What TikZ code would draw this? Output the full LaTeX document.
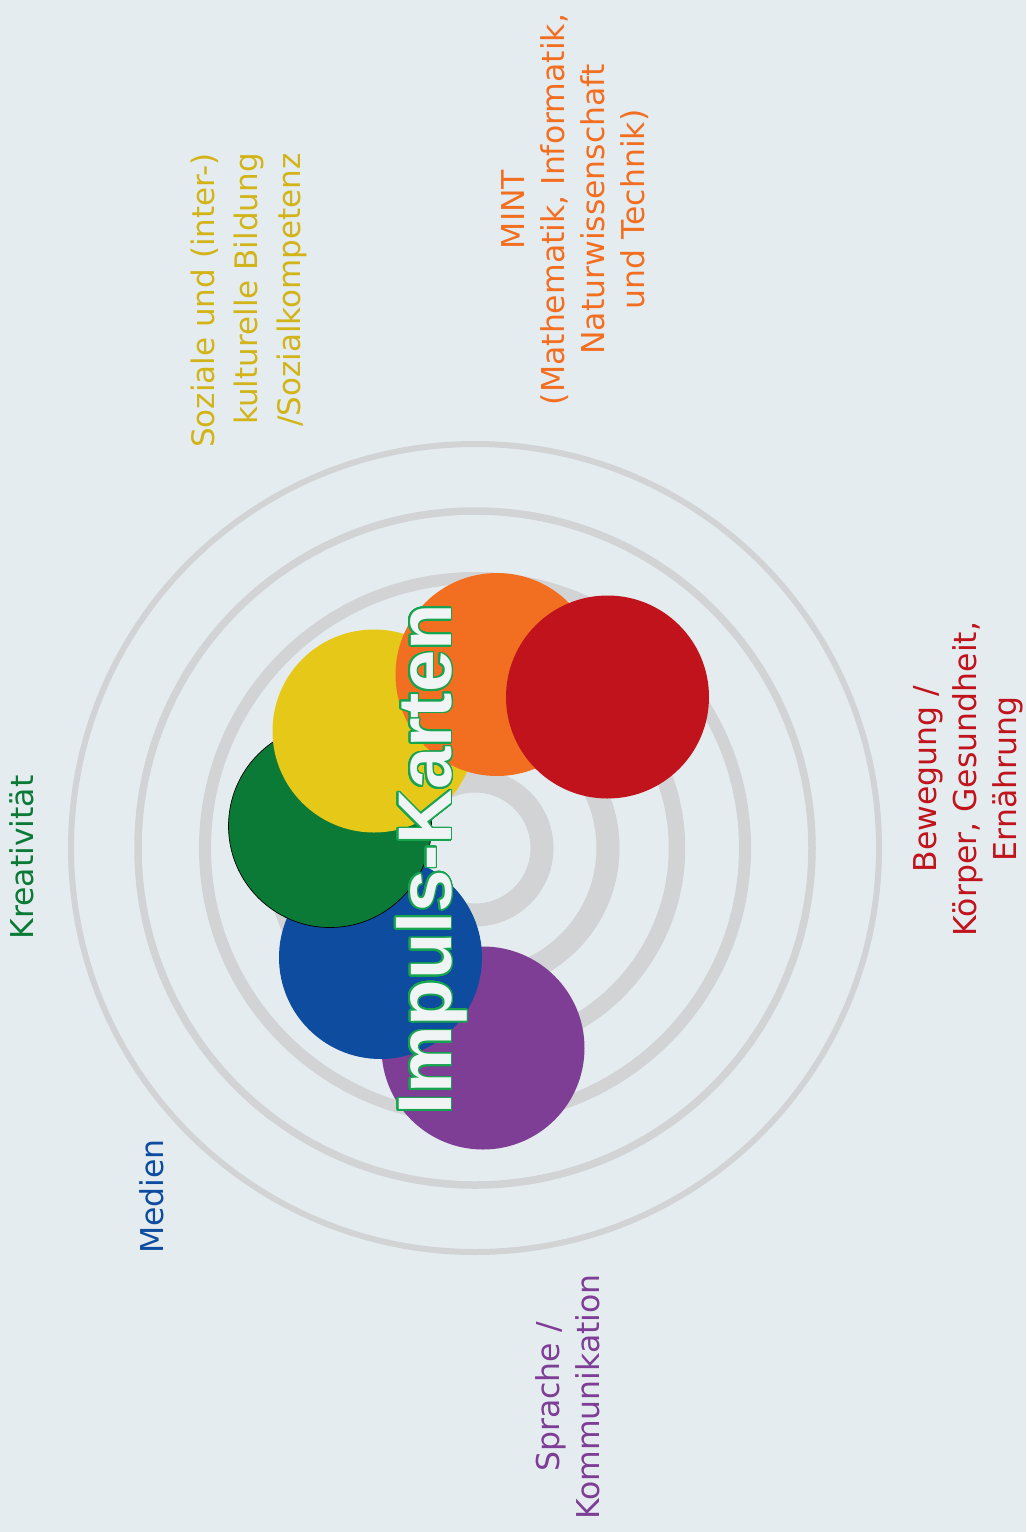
\documentclass[tikz,border=0pt]{standalone}
\usepackage{fontspec}
\setmainfont{DejaVu Sans}
\newfontfamily\titlefont{Liberation Sans}
\usepackage{contour}
\contourlength{1.7pt}
\contournumber{32}
\definecolor{bgcol}{HTML}{E5ECEF}
\definecolor{ringcol}{HTML}{D1D3D5}
\definecolor{cred}{HTML}{C1131C}
\definecolor{corange}{HTML}{F26F22}
\definecolor{cyellow}{HTML}{E6C918}
\definecolor{cgreen}{HTML}{0C7A37}
\definecolor{cblue}{HTML}{0D4C9F}
\definecolor{cpurple}{HTML}{7E3E96}
\definecolor{tyellow}{HTML}{D2B418}
\definecolor{tgreen}{HTML}{17A450}
\definecolor{tfill}{HTML}{F1F4F5}
\tikzset{
  disc/.style={circle, minimum size=203pt, inner sep=0pt},
  lbl/.style={rotate=90, inner sep=0pt, align=center, font=\fontsize{31.5}{40}\selectfont},
}
\begin{document}
\begin{tikzpicture}[x=1pt,y=-1pt]
\fill[bgcol] (0,0) rectangle (1026,1532);
\useasboundingbox (0,0) rectangle (1026,1532);
\coordinate (ctr) at (475,848);
% rings
\foreach \r/\w in {67/23,133/23,202/16.5,270/12,337/7.5,404/6}
  \draw[ringcol, line width=\w pt] (ctr) circle[radius=\r pt];
% labels
\node[lbl, text=tyellow, align=right, font=\fontsize{31}{43}\selectfont] (sozial) at (249,300.5) {Soziale und (inter-)\\kulturelle Bildung\\/Sozialkompetenz};
\node[lbl, text=corange] (mint) at (575.5,209.5) {MINT\\(Mathematik, Informatik,\\Naturwissenschaft\\und Technik)};
\node[lbl, text=cgreen, anchor=base] (kreativ) at (34,857.5) {Kreativität};
\node[lbl, text=cblue, anchor=base] (medien) at (163,1196.5) {Medien};
\node[lbl, text=cpurple] (sprache) at (568,1397) {Sprache /\\Kommunikation};
\node[lbl, text=cred] (bewegung) at (968.5,779) {Bewegung /\\Körper, Gesundheit,\\Ernährung};
% discs
\node[disc, fill=cpurple] (dsprache) at (483,1048) {};
\node[disc, fill=cblue] (dmedien) at (380.5,957.5) {};
\node[disc, fill=cgreen, draw=black, line width=0.7pt] (dkreativ) at (330,826) {};
\node[disc, fill=cyellow] (dsozial) at (374,731) {};
\node[disc, fill=corange] (dmint) at (497,674.5) {};
\node[disc, fill=cred] (dbewegung) at (607.5,697) {};
% title
\node[rotate=90, anchor=base, inner sep=0pt, text=tfill, font=\titlefont\bfseries\fontsize{76}{80}\selectfont] (titel) at (451,859.5) {\contour{tgreen}{Impuls-Karten}};
\end{tikzpicture}
\end{document}
